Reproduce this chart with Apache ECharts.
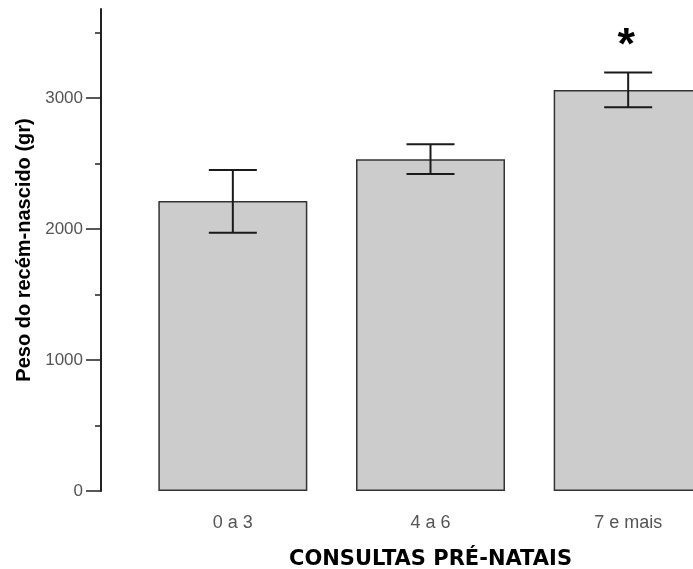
<!DOCTYPE html>
<html>
<head>
<meta charset="utf-8">
<script src="https://cdn.jsdelivr.net/npm/echarts@6/dist/echarts.min.js"></script>
<style>
  html, body { margin: 0; padding: 0; background: #fff; }
  #chart { width: 693px; height: 569px; }
</style>
</head>
<body>
<div id="chart"></div>
<script>
const categories = ['0 a 3', '4 a 6', '7 e mais'];
const meanWeight = [2214, 2532, 3061];
const errLow = [1972, 2420, 2929];
const errHigh = [2450, 2647, 3196];
const marks = ['', '', '*'];
const yTicks = [0, 1000, 2000, 3000];

const chart = echarts.init(document.getElementById('chart'));

chart.setOption({
  animation: false,
  grid: { left: 134, top: 9, right: -34, bottom: 78, outerBoundsMode: 'none' },
  xAxis: {
    type: 'category',
    data: categories,
    name: 'CONSULTAS PRÉ-NATAIS',
    nameLocation: 'middle',
    nameGap: 58,
    nameTextStyle: { fontFamily: 'DejaVu Sans', fontWeight: 'bold', fontSize: 21, color: '#000' },
    axisLine: { show: false },
    axisTick: { show: false },
    axisLabel: { margin: 23, fontFamily: 'Liberation Sans', fontSize: 18, color: '#555' }
  },
  yAxis: {
    type: 'value',
    min: 0,
    max: 3680,
    interval: 1000,
    offset: 33,
    name: 'Peso do recém-nascido (gr)',
    nameLocation: 'middle',
    nameGap: 62,
    nameTextStyle: { fontFamily: 'Liberation Sans', fontWeight: 'bold', fontSize: 20, color: '#000' },
    splitLine: { show: false },
    axisLine: { show: true, lineStyle: { color: '#222', width: 2 } },
    axisTick: { show: true, length: 15, customValues: yTicks, lineStyle: { color: '#222', width: 1.5 } },
    minorTick: { show: true, splitNumber: 2, length: 6, lineStyle: { color: '#222', width: 1.5 } },
    axisLabel: {
      margin: 18,
      customValues: yTicks,
      formatter: v => String(v),
      fontFamily: 'Liberation Sans', fontSize: 17, color: '#555'
    }
  },
  series: [
    {
      type: 'bar',
      data: meanWeight,
      barWidth: 149,
      itemStyle: { color: '#cccccc', borderColor: '#333', borderWidth: 1.5 }
    },
    {
      type: 'custom',
      data: categories.map((c, i) => [i, errLow[i], errHigh[i]]),
      renderItem: function (params, api) {
        const lo = api.coord([api.value(0), api.value(1)]);
        const hi = api.coord([api.value(0), api.value(2)]);
        const w = 24;
        const st = { stroke: '#1a1a1a', lineWidth: 2 };
        const children = [
          { type: 'line', shape: { x1: lo[0], y1: lo[1], x2: hi[0], y2: hi[1] }, style: st },
          { type: 'line', shape: { x1: hi[0] - w, y1: hi[1], x2: hi[0] + w, y2: hi[1] }, style: st },
          { type: 'line', shape: { x1: lo[0] - w, y1: lo[1], x2: lo[0] + w, y2: lo[1] }, style: st }
        ];
        const m = marks[params.dataIndex];
        if (m) {
          children.push({
            type: 'text',
            style: {
              text: m, x: hi[0] - 2, y: hi[1] - 26,
              fill: '#000', font: 'bold 45px Liberation Sans',
              align: 'center', verticalAlign: 'middle'
            }
          });
        }
        return { type: 'group', children: children };
      },
      z: 5
    }
  ]
});
</script>
</body>
</html>
